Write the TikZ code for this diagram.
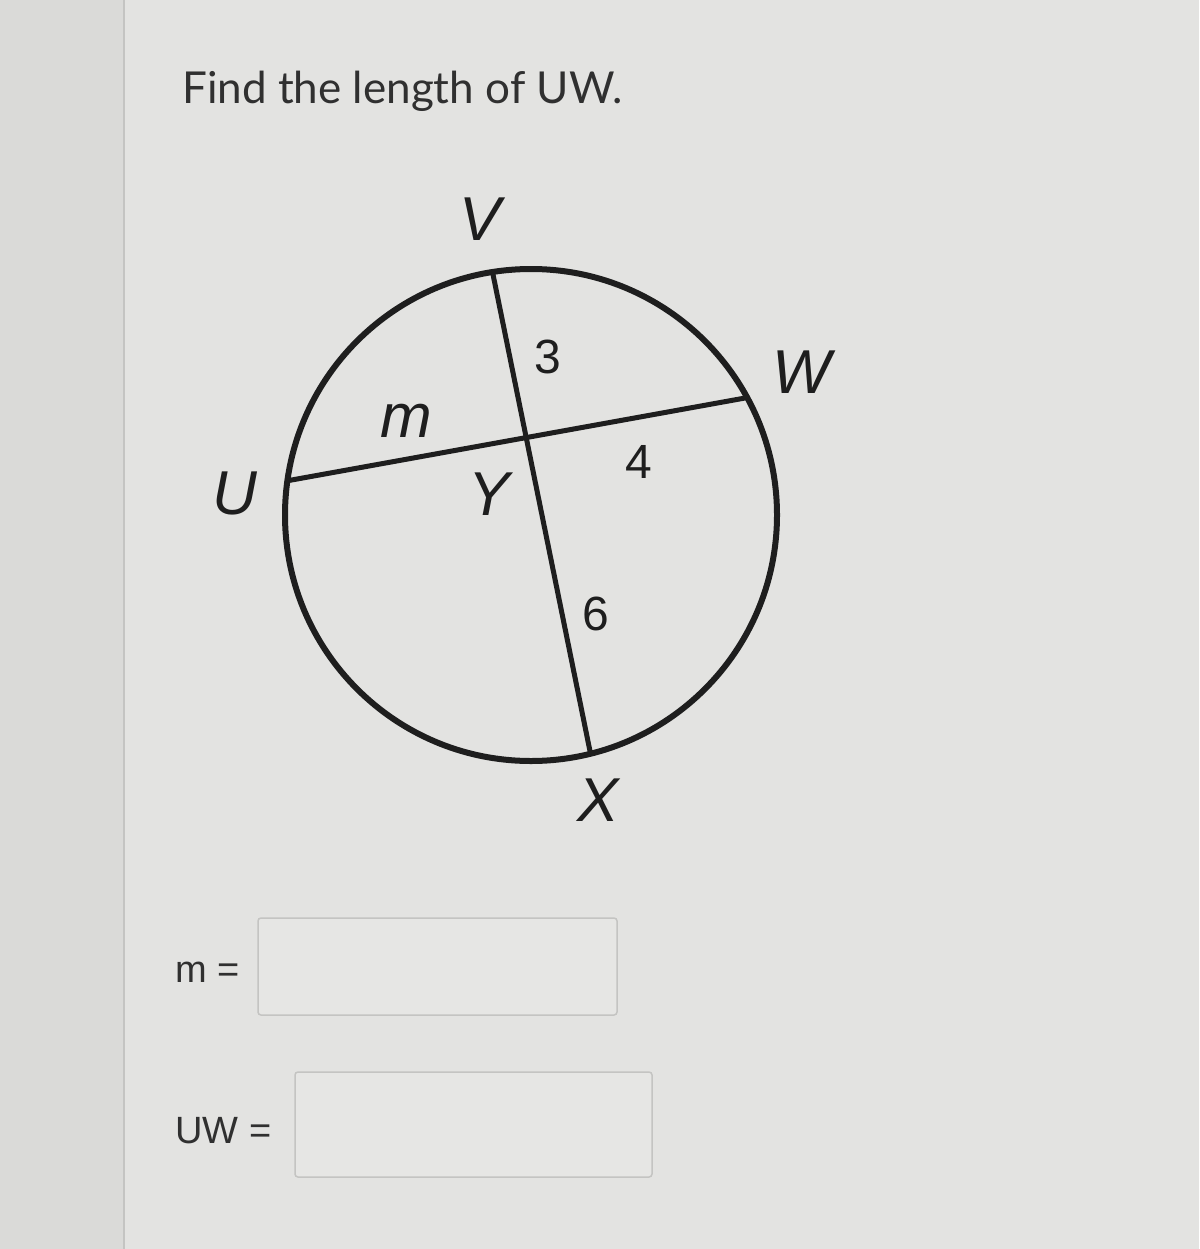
\documentclass[tikz,border=0pt]{standalone}
\usepackage{fontspec}
\setmainfont{Lato}
\newfontfamily\arialfont{Liberation Sans}
\usetikzlibrary{calc}
\definecolor{bg}{HTML}{E3E3E1}
\definecolor{strip}{HTML}{DADAD8}
\definecolor{ink}{HTML}{1E1E1E}
\definecolor{txt}{HTML}{303030}
\definecolor{boxfill}{HTML}{E6E6E4}
\definecolor{boxline}{HTML}{C4C4C2}
\tikzset{
  lbl/.style={font=\arialfont\itshape\fontsize{62}{62}\selectfont, text=ink, inner sep=0pt},
  num/.style={font=\arialfont\fontsize{48}{48}\selectfont, text=ink, inner sep=0pt},
  ans/.style={font=\arialfont\fontsize{38}{38}\selectfont, text=txt, inner sep=0pt, anchor=base west},
  inbox/.style={draw=boxline, fill=boxfill, line width=1.5pt, rounded corners=3pt, inner sep=0pt},
  circ/.style={draw=ink, line width=6pt},
  chord/.style={draw=ink, line width=5pt}
}
\begin{document}
\begin{tikzpicture}[x=1pt,y=-1pt]
\path[use as bounding box, fill=bg] (0,0) rectangle (1199,1249);
\fill[strip] (0,0) rectangle (124,1249);
\draw[boxline, line width=1.5pt] (124,0) -- (124,1249);
% title
\node[font=\fontsize{44}{44}\selectfont, text=txt, anchor=base west, inner sep=0pt] (title) at (182,104) {Find the length of UW.};
% circle
\coordinate (C) at (531,515);
\coordinate (V) at ($(C)+(-99:246)$);
\coordinate (X) at ($(C)+(76:246)$);
\coordinate (U) at ($(C)+(188:246)$);
\coordinate (W) at ($(C)+(-28.5:246)$);
\draw[circ] (C) circle[radius=246];
\draw[chord] (V) -- (X);
\draw[chord] (U) -- (W);
\coordinate (Y) at (intersection of V--X and U--W);
% labels
\node[lbl] (lV) at (480,219) {V};
\node[lbl] (lW) at (802,372) {W};
\node[lbl] (lU) at (235,493) {U};
\node[lbl] (lX) at (598,800) {X};
\node[lbl] (lY) at (489,494) {Y};
\node[lbl] (lm) at (406,421) {m};
\node[num] (n3) at (548,357) {3};
\node[num] (n4) at (639,462) {4};
\node[num] (n6) at (596,614) {6};
% answer boxes
\node[ans] (mt) at (175,982) {m =};
\node[inbox, minimum width=359pt, minimum height=97pt] (box1) at (437.5,966.5) {};
\node[ans] (uwt) at (175,1143) {UW =};
\node[inbox, minimum width=357pt, minimum height=105pt] (box2) at (473.5,1124.5) {};
\end{tikzpicture}
\end{document}
